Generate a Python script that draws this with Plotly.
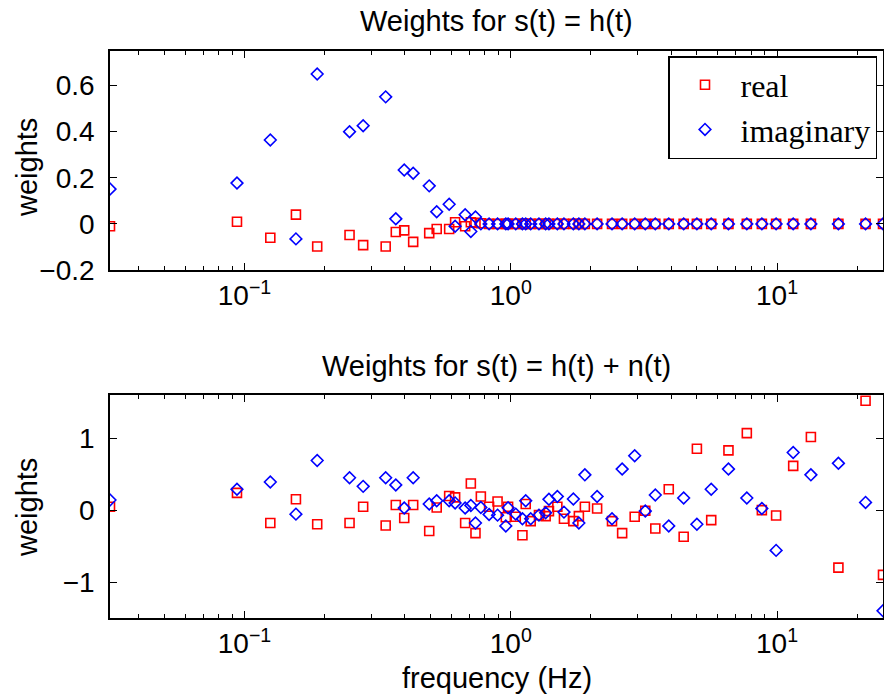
import plotly.graph_objects as go
import numpy as np

freq = [0.03125, 0.0937, 0.125, 0.156, 0.1875, 0.248, 0.279, 0.339, 0.37, 0.398,
        0.43, 0.494, 0.527, 0.587, 0.618, 0.674, 0.708, 0.737, 0.772, 0.829,
        0.892, 0.958, 0.977, 1.044, 1.106, 1.138, 1.188, 1.276, 1.352, 1.391,
        1.496, 1.584, 1.718, 1.802, 1.898, 2.11, 2.40, 2.62, 2.92, 3.20,
        3.49, 3.92, 4.46, 5.0, 5.66, 6.57, 7.70, 8.77, 9.92, 11.5,
        13.4, 17.0, 21.5, 25.0]

top_real = [-0.010, 0.009, -0.060, 0.040, -0.098, -0.048, -0.092, -0.098, -0.035, -0.028,
            -0.078, -0.040, -0.022, -0.022, 0.007, -0.010, 0.007, 0.005, 0.003, 0.0,
            0.0, 0.0, 0.0, 0.0, 0.0, 0.0, 0.0, 0.0, 0.0, 0.0,
            0.0, 0.0, 0.0, 0.0, 0.0, 0.0, 0.0, 0.0, 0.0, 0.0,
            0.0, 0.0, 0.0, 0.0, 0.0, 0.0, 0.0, 0.0, 0.0, 0.0,
            0.0, 0.0, 0.0, 0.0]
top_imag = [0.151, 0.177, 0.364, -0.065, 0.650, 0.400, 0.426, 0.551, 0.022, 0.234,
            0.220, 0.165, 0.053, 0.085, -0.010, 0.040, -0.033, 0.030, 0.0, 0.0,
            0.0, 0.0, 0.0, 0.0, 0.0, 0.0, 0.0, 0.0, 0.0, 0.0,
            0.0, 0.0, 0.0, 0.0, 0.0, 0.0, 0.0, 0.0, 0.0, 0.0,
            0.0, 0.0, 0.0, 0.0, 0.0, 0.0, 0.0, 0.0, 0.0, 0.0,
            0.0, 0.0, 0.0, 0.0]

bot_real = [0.046, 0.24, -0.18, 0.15, -0.196, -0.18, 0.046, -0.215, 0.07, -0.11,
            0.07, -0.29, 0.037, 0.196, 0.177, -0.18, 0.37, -0.32, 0.19, 0.046,
            0.12, -0.10, 0.046, -0.093, -0.35, 0.084, -0.154, -0.07, -0.084, -0.014,
            0.046, -0.12, -0.154, -0.084, 0.046, 0.023, -0.154, -0.32, -0.093, -0.009,
            -0.256, 0.29, -0.37, 0.853, -0.14, 0.83, 1.07, 0.0, -0.075, 0.615,
            1.017, -0.80, 1.52, -0.90]
bot_imag = [0.14, 0.29, 0.39, -0.056, 0.69, 0.45, 0.33, 0.45, 0.35, 0.028,
            0.45, 0.084, 0.13, 0.13, 0.10, 0.028, 0.065, -0.18, 0.037, -0.06,
            -0.07, -0.22, 0.033, -0.056, -0.12, 0.13, -0.12, -0.07, -0.037, 0.15,
            0.19, -0.028, 0.154, -0.18, 0.49, 0.19, -0.12, 0.57, 0.755, -0.014,
            0.21, -0.22, 0.168, -0.196, 0.29, 0.57, 0.168, 0.023, -0.56, 0.80,
            0.49, 0.65, 0.107, -1.40]

x_tickvals = [0.1, 1, 10]
x_ticktext = ["10<sup>\u22121</sup>", "10<sup>0</sup>", "10<sup>1</sup>"]
minor_vals = [m * 10.0 ** d for d in (-2, -1, 0, 1) for m in range(2, 10)]

titles = ["Weights for s(t) = h(t)", "Weights for s(t) = h(t) + n(t)"]

SANS = "Liberation Sans, Arial, sans-serif"
SERIF = "Liberation Serif, Times New Roman, serif"
RED = "#ff0000"
BLUE = "#0000ff"
FS = 29
TFS = 28

fig = go.Figure()
fig.add_trace(go.Scatter(x=freq, y=top_real, mode="markers", name="real",
                         legendgroup="r",
                         marker=dict(symbol="square-open", size=9, color=RED,
                                     line=dict(width=1.6, color=RED)),
                         xaxis="x", yaxis="y"))
fig.add_trace(go.Scatter(x=freq, y=top_imag, mode="markers", name="imaginary",
                         legendgroup="i",
                         marker=dict(symbol="diamond-open", size=9, color=BLUE,
                                     line=dict(width=1.6, color=BLUE)),
                         xaxis="x", yaxis="y"))
fig.add_trace(go.Scatter(x=freq, y=bot_real, mode="markers", name="real",
                         showlegend=False,
                         marker=dict(symbol="square-open", size=9, color=RED,
                                     line=dict(width=1.6, color=RED)),
                         xaxis="x2", yaxis="y2"))
fig.add_trace(go.Scatter(x=freq, y=bot_imag, mode="markers", name="imaginary",
                         showlegend=False,
                         marker=dict(symbol="diamond-open", size=9, color=BLUE,
                                     line=dict(width=1.6, color=BLUE)),
                         xaxis="x2", yaxis="y2"))

H = 694.0
W = 773.0
xr = [np.log10(0.03125), np.log10(25.0)]

common_x = dict(type="log", range=xr, showline=True, linecolor="black", linewidth=1.5,
                mirror="allticks", ticks="inside", ticklen=7, tickwidth=1, tickcolor="black",
                tickvals=x_tickvals, ticktext=x_ticktext, showgrid=False, zeroline=False,
                automargin=False, ticklabelstandoff=0,
                tickfont=dict(family=SANS, size=TFS, color="black"),
                minor=dict(tickvals=minor_vals, ticks="inside", ticklen=4, tickwidth=1,
                           tickcolor="black", showgrid=False))
common_y = dict(showline=True, linecolor="black", linewidth=1.5, mirror="ticks",
                ticks="inside", ticklen=7, tickwidth=1, tickcolor="black",
                showgrid=False, zeroline=False, ticklabelstandoff=8, automargin=False,
                tickfont=dict(family=SANS, size=TFS, color="black"))

fig.update_layout(
    width=884, height=694,
    margin=dict(l=110, r=1, t=0, b=0, autoexpand=False),
    paper_bgcolor="white", plot_bgcolor="white",
    xaxis=dict(domain=[0, 1], anchor="y", **common_x),
    yaxis=dict(domain=[1 - 270 / H, 1 - 51 / H], anchor="x", range=[-0.2, 0.75],
               tickvals=[-0.2, 0, 0.2, 0.4, 0.6], **common_y),
    xaxis2=dict(domain=[0, 1], anchor="y2", **common_x),
    yaxis2=dict(domain=[1 - 618 / H, 1 - 395 / H], anchor="x2", range=[-1.5, 1.6],
                tickvals=[-1, 0, 1], **common_y),
    legend=dict(x=(877 - 110) / W, xanchor="right", y=1 - 56 / H, yanchor="top",
                bgcolor="white", bordercolor="black", borderwidth=1.5,
                font=dict(family=SERIF, size=32, color="black"),
                traceorder="grouped", tracegroupgap=0, itemwidth=61),
    showlegend=True,
)

annotations = [
    dict(text=titles[0], x=0.5, y=1 - 21 / H, xref="paper", yref="paper",
         showarrow=False, xanchor="center", yanchor="middle",
         font=dict(family=SANS, size=FS, color="black")),
    dict(text=titles[1], x=0.5, y=1 - 366 / H, xref="paper", yref="paper",
         showarrow=False, xanchor="center", yanchor="middle",
         font=dict(family=SANS, size=FS, color="black")),
    dict(text="weights", x=-(110 - 27) / W, y=1 - 168 / H, xref="paper", yref="paper",
         showarrow=False, xanchor="center", yanchor="middle", textangle=-90,
         font=dict(family=SANS, size=FS, color="black")),
    dict(text="weights", x=-(110 - 27) / W, y=1 - 508 / H, xref="paper", yref="paper",
         showarrow=False, xanchor="center", yanchor="middle", textangle=-90,
         font=dict(family=SANS, size=FS, color="black")),
    dict(text="frequency (Hz)", x=0.5, y=1 - 678 / H, xref="paper", yref="paper",
         showarrow=False, xanchor="center", yanchor="middle",
         font=dict(family=SANS, size=FS, color="black")),
]
fig.update_layout(annotations=annotations)

fig.write_html("out.html", config={"displayModeBar": False},
               post_script="document.body.style.margin='0';"
                           "document.body.style.overflow='hidden';")
